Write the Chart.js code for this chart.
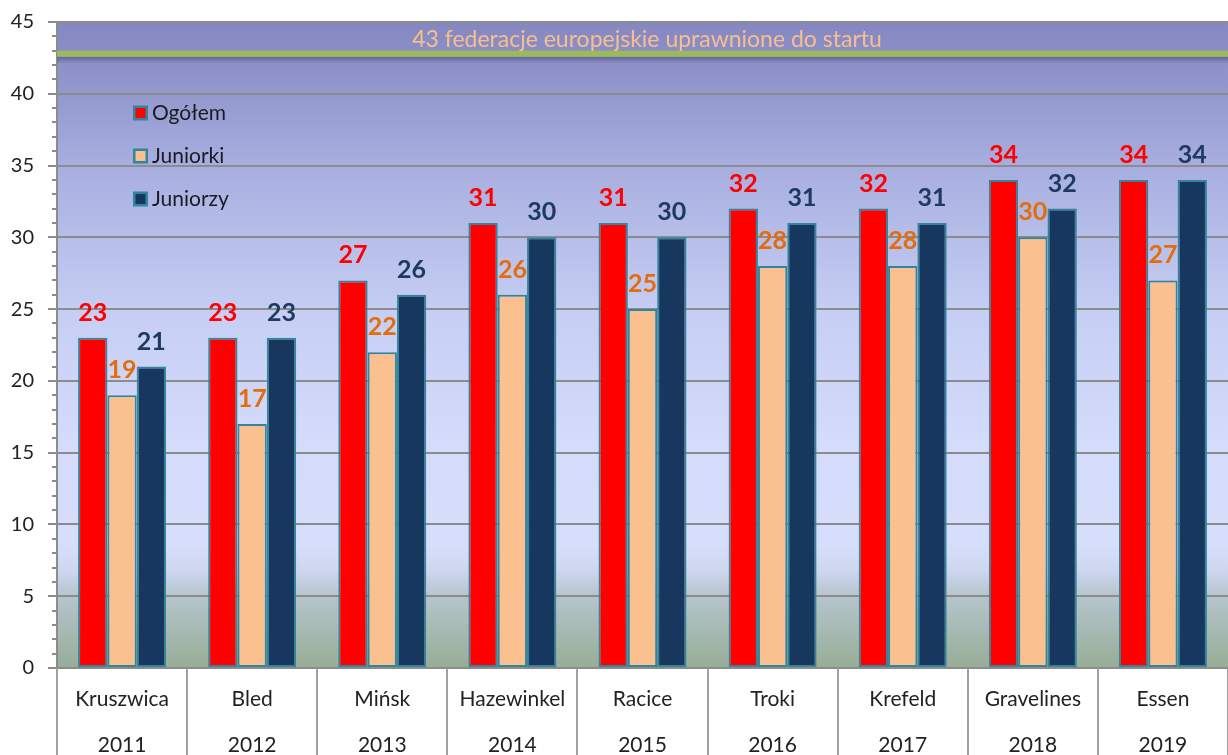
<!DOCTYPE html>
<html>
<head>
<meta charset="utf-8">
<script src="https://cdn.jsdelivr.net/npm/chart.js@4/dist/chart.umd.min.js"></script>
<style>
  html, body { margin: 0; padding: 0; background: #ffffff; }
  #wrap { width: 1228px; height: 755px; position: relative; }
</style>
</head>
<body>
<div id="wrap"><canvas id="c" width="1228" height="755"></canvas></div>
<script>
const cities = ['Kruszwica', 'Bled', 'Mińsk', 'Hazewinkel', 'Racice', 'Troki', 'Krefeld', 'Gravelines', 'Essen'];
const years = ['2011', '2012', '2013', '2014', '2015', '2016', '2017', '2018', '2019'];
const ogolem = [23, 23, 27, 31, 31, 32, 32, 34, 34];
const juniorki = [19, 17, 22, 26, 25, 28, 28, 30, 27];
const juniorzy = [21, 23, 26, 30, 30, 31, 31, 32, 34];
const seriesNames = ['Ogółem', 'Juniorki', 'Juniorzy'];
const federationLimit = 43;
const limitText = '43 federacje europejskie uprawnione do startu';
const yMin = 0, yMax = 45, yMajorStep = 5;

const FONT = 'Lato, "Noto Sans", sans-serif';
const barColors = ['#ff0000', '#fac090', '#17375e'];
const labelColors = ['#ff0000', '#e46c0a', '#1f3a60'];
const barBorder = '#31859c';
const gridGrey = '#8c8c8c';

const bgPlugin = {
  id: 'bg',
  beforeDraw(chart) {
    const { ctx, chartArea: a } = chart;
    const g = ctx.createLinearGradient(0, a.top, 0, a.bottom);
    g.addColorStop(0.00, '#8587c2');
    g.addColorStop(0.10, '#9196cb');
    g.addColorStop(0.22, '#a7aedf');
    g.addColorStop(0.45, '#c6cef4');
    g.addColorStop(0.65, '#d4dbfb');
    g.addColorStop(0.81, '#d7defb');
    g.addColorStop(0.85, '#cdd6ee');
    g.addColorStop(0.89, '#b5c4cc');
    g.addColorStop(1.00, '#97ad96');
    ctx.save();
    ctx.fillStyle = g;
    ctx.fillRect(a.left, a.top, a.right - a.left, a.bottom - a.top);
    ctx.restore();
  }
};

const limitPlugin = {
  id: 'limit',
  afterDatasetsDraw(chart) {
    const { ctx, chartArea: a, scales: { y } } = chart;
    const yy = y.getPixelForValue(federationLimit);
    ctx.save();
    const sh = ctx.createLinearGradient(0, yy + 6, 0, yy + 13);
    sh.addColorStop(0, 'rgba(50,50,100,0.45)');
    sh.addColorStop(1, 'rgba(50,50,100,0)');
    ctx.fillStyle = sh;
    ctx.fillRect(a.left, yy + 6, a.right - a.left, 7);
    ctx.fillStyle = '#9bbb59';
    ctx.fillRect(a.left, yy, a.right - a.left, 6);
    ctx.font = '23px ' + FONT;
    ctx.fillStyle = '#f8bf8c';
    ctx.textAlign = 'center';
    ctx.textBaseline = 'alphabetic';
    ctx.fillText(limitText, 647, yy - 4);
    ctx.restore();
  }
};

const valuePlugin = {
  id: 'values',
  afterDatasetsDraw(chart) {
    const { ctx } = chart;
    ctx.save();
    ctx.font = 'bold 25px ' + FONT;
    ctx.textAlign = 'center';
    ctx.textBaseline = 'alphabetic';
    chart.data.datasets.forEach((ds, di) => {
      const meta = chart.getDatasetMeta(di);
      ctx.fillStyle = labelColors[di];
      meta.data.forEach((el, i) => {
        ctx.fillText(String(ds.data[i]), el.x, el.y - 17);
      });
    });
    ctx.restore();
  }
};

const axisPlugin = {
  id: 'axisExtras',
  afterDraw(chart) {
    const { ctx, chartArea: a, scales: { x, y } } = chart;
    ctx.save();
    ctx.strokeStyle = gridGrey;
    ctx.lineWidth = 2;
    for (let v = yMin; v <= yMax; v++) {
      if (v % yMajorStep === 0) continue;
      const py = Math.round(y.getPixelForValue(v));
      ctx.beginPath();
      ctx.moveTo(a.left - 5, py);
      ctx.lineTo(a.left, py);
      ctx.stroke();
    }
    const n = cities.length;
    const w = (x.getPixelForValue(1) - x.getPixelForValue(0));
    ctx.strokeStyle = '#a0a0a0';
    ctx.lineWidth = 2;
    for (let i = 0; i <= n; i++) {
      const px = Math.round(x.getPixelForValue(0) - w / 2 + i * w);
      ctx.beginPath();
      ctx.moveTo(px, a.bottom);
      ctx.lineTo(px, chart.height);
      ctx.stroke();
    }
    ctx.fillStyle = '#222222';
    ctx.font = '21px ' + FONT;
    ctx.textAlign = 'center';
    ctx.textBaseline = 'middle';
    for (let i = 0; i < n; i++) {
      const px = x.getPixelForValue(i);
      ctx.fillText(cities[i], px, a.bottom + 31);
      ctx.fillText(years[i], px, a.bottom + 77);
    }
    const lx = 133, ly0 = 113, dy = 43;
    ctx.font = '21px ' + FONT;
    ctx.textAlign = 'left';
    ctx.textBaseline = 'middle';
    chart.data.datasets.forEach((ds, di) => {
      const cy = ly0 + di * dy;
      ctx.fillStyle = barBorder;
      ctx.fillRect(lx, cy - 7.5, 15, 15);
      ctx.fillStyle = barColors[di];
      ctx.fillRect(lx + 2.5, cy - 5, 10, 10);
      ctx.fillStyle = '#1a1a22';
      ctx.fillText(ds.label, lx + 19, cy);
    });
    ctx.restore();
  }
};

new Chart(document.getElementById('c'), {
  type: 'bar',
  data: {
    labels: cities,
    datasets: [
      { label: seriesNames[0], data: ogolem, backgroundColor: barColors[0] },
      { label: seriesNames[1], data: juniorki, backgroundColor: barColors[1] },
      { label: seriesNames[2], data: juniorzy, backgroundColor: barColors[2] }
    ].map(d => Object.assign(d, {
      borderColor: barBorder, borderWidth: 2, borderSkipped: false,
      categoryPercentage: 0.676, barPercentage: 1.0
    }))
  },
  options: {
    responsive: false,
    animation: false,
    devicePixelRatio: 1,
    layout: { padding: { top: 22, left: 0, right: 0, bottom: 0 } },
    plugins: { legend: { display: false }, tooltip: { enabled: false } },
    scales: {
      x: {
        grid: { display: false },
        border: { display: false },
        ticks: { display: false },
        afterFit(s) { s.height = 87; s.paddingLeft = 0; s.paddingRight = 0; }
      },
      y: {
        min: yMin, max: yMax,
        afterFit(s) { s.width = 57; s.paddingTop = 0; s.paddingBottom = 0; },
        border: { display: true, color: gridGrey, width: 2 },
        grid: {
          color: c => (c.tick && c.tick.value % yMajorStep === 0) ? gridGrey : 'rgba(0,0,0,0)',
          tickColor: c => (c.tick && c.tick.value % yMajorStep === 0) ? gridGrey : 'rgba(0,0,0,0)',
          lineWidth: 2,
          tickWidth: 2,
          tickLength: 9
        },
        ticks: {
          stepSize: 1,
          autoSkip: false,
          padding: 14,
          color: '#222222',
          font: { family: FONT, size: 20 },
          callback: v => (v % yMajorStep === 0) ? String(v) : ''
        }
      }
    }
  },
  plugins: [bgPlugin, limitPlugin, valuePlugin, axisPlugin]
});
</script>
</body>
</html>
